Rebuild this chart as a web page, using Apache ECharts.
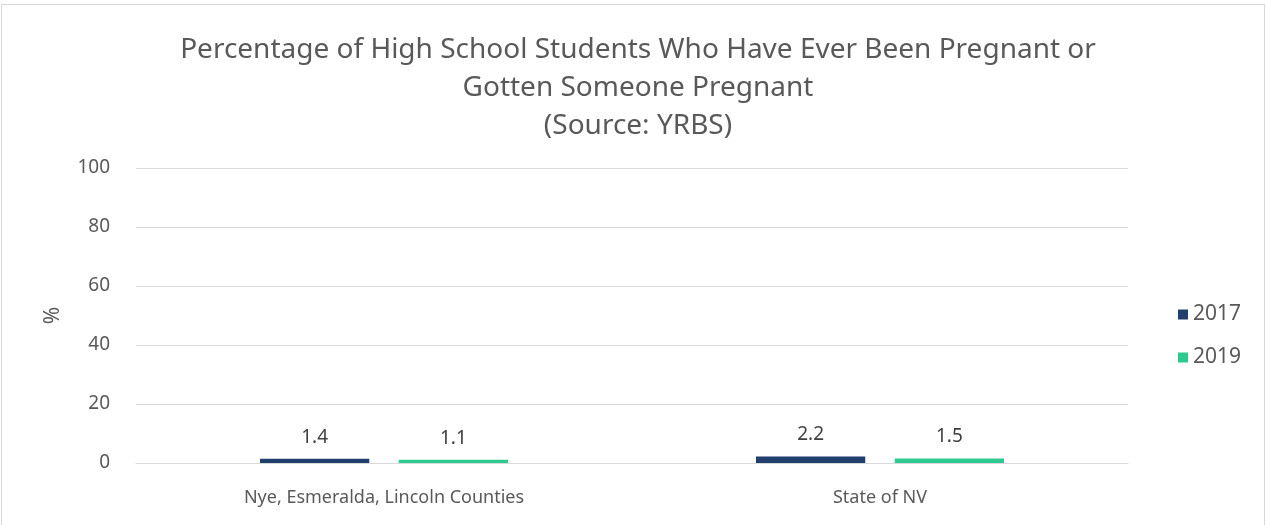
<!DOCTYPE html>
<html>
<head>
<meta charset="utf-8">
<script src="https://cdn.jsdelivr.net/npm/echarts@6/dist/echarts.min.js"></script>
<style>
  html, body { margin: 0; padding: 0; background: #fff; }
  #frame { position: absolute; left: 1px; top: 4px; width: 1262px; height: 540px; border: 1px solid #d9d9d9; }
  #chart { position: absolute; left: -2px; top: -5px; width: 1266px; height: 525px; }
</style>
</head>
<body>
<div id="frame"><div id="chart"></div></div>
<script>
const categories = ['Nye, Esmeralda, Lincoln Counties', 'State of NV']
const seriesNames = ['2017', '2019']
const values2017 = [1.4, 2.2]
const values2019 = [1.1, 1.5]
const yTicks = [0, 20, 40, 60, 80, 100]

const textColor = '#595959'
const font = '"Noto Sans", "Open Sans", sans-serif'

const chart = echarts.init(document.getElementById('chart'))

const barLabel = {
  show: true,
  position: 'top',
  distance: 12,
  color: '#404040',
  fontSize: 19,
  fontFamily: font
}

chart.setOption({
  animation: false,
  title: {
    text: 'Percentage of High School Students Who Have Ever Been Pregnant or\nGotten Someone Pregnant\n(Source: YRBS)',
    left: 633,
    textAlign: 'center',
    top: 26,
    textStyle: {
      color: textColor,
      fontSize: 28,
      fontWeight: 'normal',
      fontFamily: font,
      lineHeight: 38
    }
  },
  legend: {
    orient: 'vertical',
    left: 1173,
    top: 299,
    itemWidth: 10,
    itemHeight: 10,
    itemGap: 22,
    icon: 'rect',
    data: seriesNames,
    textStyle: { color: textColor, fontSize: 21, fontFamily: font }
  },
  grid: { left: 136, right: 138, top: 168, bottom: 62 },
  xAxis: {
    type: 'category',
    data: categories,
    axisLine: { lineStyle: { color: '#d9d9d9', width: 1 } },
    axisTick: { show: false },
    axisLabel: { color: textColor, fontSize: 18, fontFamily: font, margin: 26 }
  },
  yAxis: {
    type: 'value',
    min: yTicks[0],
    max: yTicks[yTicks.length - 1],
    interval: 20,
    name: '%',
    nameLocation: 'middle',
    nameGap: 72,
    nameRotate: 90,
    nameTextStyle: { color: textColor, fontSize: 21, fontFamily: font },
    axisLine: { show: false },
    axisTick: { show: false },
    axisLabel: { color: textColor, fontSize: 19, fontFamily: font, margin: 26 },
    splitLine: { lineStyle: { color: '#d9d9d9', width: 1 } }
  },
  series: [
    {
      name: seriesNames[0],
      type: 'bar',
      data: values2017,
      barGap: '27%',
      barCategoryGap: '50%',
      itemStyle: { color: '#203f6c' },
      label: barLabel
    },
    {
      name: seriesNames[1],
      type: 'bar',
      data: values2019,
      itemStyle: { color: '#2dc98f' },
      label: barLabel
    }
  ]
})
</script>
</body>
</html>
